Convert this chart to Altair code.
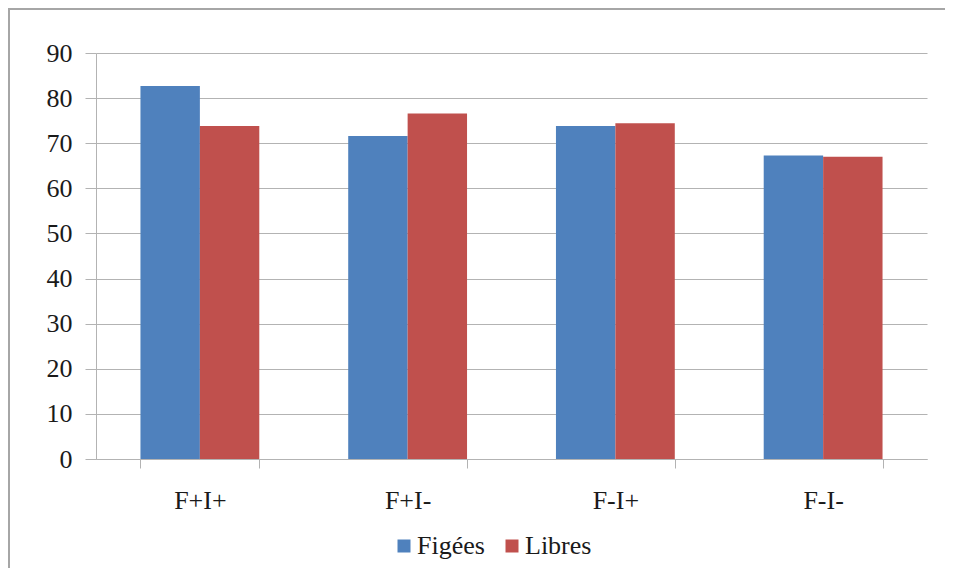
import altair as alt
import pandas as pd

categories = ["F+I+", "F+I-", "F-I+", "F-I-"]
series = ["Figées", "Libres"]
figees = [82.7, 71.6, 73.8, 67.3]
libres = [73.8, 76.6, 74.4, 67.0]
y_ticks = [0, 10, 20, 30, 40, 50, 60, 70, 80, 90]
colors = ["#4f81bd", "#c0504d"]

rows = []
for c, f, l in zip(categories, figees, libres):
    rows.append({"cat": c, "series": series[0], "value": f})
    rows.append({"cat": c, "series": series[1], "value": l})
df = pd.DataFrame(rows)

FONT = "Liberation Serif"
GRID = "#b3b3b3"

bars = alt.Chart(df).mark_bar().encode(
    x=alt.X("cat:N", sort=categories,
            scale=alt.Scale(paddingInner=0.428, paddingOuter=0.214),
            axis=alt.Axis(title=None, labelAngle=0, tickBand="extent", tickSize=9,
                          labelPadding=19, domainColor=GRID, tickColor=GRID,
                          labelFont=FONT, labelFontSize=26, labelColor="#1a1a1a")),
    xOffset=alt.XOffset("series:N", sort=series),
    y=alt.Y("value:Q", scale=alt.Scale(domain=[0, 90], nice=False),
            axis=alt.Axis(title=None, values=y_ticks, tickSize=11, labelPadding=13,
                          grid=True, gridColor=GRID, domainColor=GRID, tickColor=GRID,
                          labelFont=FONT, labelFontSize=26, labelColor="#1a1a1a")),
    color=alt.Color("series:N", sort=series,
                    scale=alt.Scale(domain=series, range=colors),
                    legend=alt.Legend(orient="none", legendX=295, legendY=480,
                                      direction="horizontal", title=None,
                                      symbolType="square", symbolSize=169,
                                      symbolStrokeWidth=0,
                                      labelFont=FONT, labelFontSize=26,
                                      labelColor="#1a1a1a", labelOffset=0,
                                      columnPadding=14, padding=0)),
)

frame_df = pd.DataFrame({"a": [0]})
left_border = alt.Chart(frame_df).mark_rule(color="#a6a6a6", strokeWidth=2).encode(
    x=alt.value(-87), y=alt.value(-45), y2=alt.value(515))
top_border = alt.Chart(frame_df).mark_rule(color="#a6a6a6", strokeWidth=2).encode(
    x=alt.value(-87), x2=alt.value(851), y=alt.value(-44))

chart = alt.layer(bars, left_border, top_border).properties(
    width=831, height=406,
    autosize=alt.AutoSizeParams(type="none"),
    padding={"left": 88, "top": 45, "right": 18, "bottom": 109},
).configure(
    font=FONT
).configure_view(stroke=None)

chart.save("out.html", embed_options={"renderer": "svg", "actions": False})
